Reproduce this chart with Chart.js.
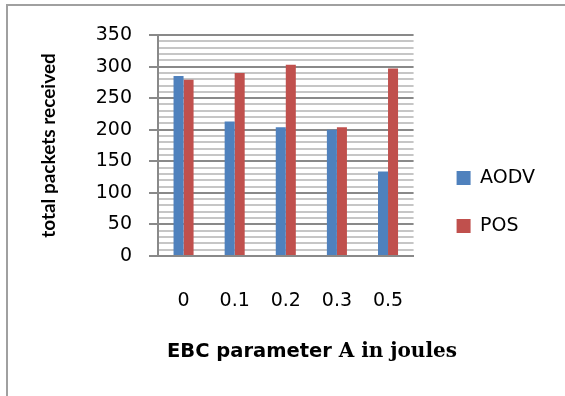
<!DOCTYPE html>
<html><head><meta charset="utf-8">
<script src="https://cdn.jsdelivr.net/npm/chart.js@4"></script>
<style>html,body{margin:0;padding:0;background:#fff;}#wrap{position:relative;width:565px;height:396px;}</style>
</head><body><div id="wrap"><canvas id="c" width="565" height="396"></canvas></div>
<script>
const categories = ['0', '0.1', '0.2', '0.3', '0.5'];
const aodvValues = [285, 213, 204, 200, 134];
const posValues = [279, 290, 303, 204, 297];
const seriesNames = ['AODV', 'POS'];
const yMin = 0, yMax = 350, yMajorStep = 50, yMinorStep = 10;
const yTitle = 'total packets received';
const xTitleSans = 'EBC parameter';
const xTitleSerif = 'A in joules';

const frame = {
  id: 'frame',
  beforeDraw(chart) {
    const ctx = chart.ctx;
    ctx.save();
    ctx.fillStyle = '#fff';
    ctx.fillRect(0, 0, chart.width, chart.height);
    ctx.fillStyle = '#a0a0a0';
    ctx.fillRect(6, 4, chart.width - 6, 2);
    ctx.fillRect(6, 4, 2, chart.height - 4);
    ctx.restore();
  }
};
const xTitle = {
  id: 'xTitle',
  afterDraw(chart) {
    const ctx = chart.ctx, a = chart.chartArea;
    ctx.save();
    const f1 = 'bold 19.5px "DejaVu Sans"', f2 = 'bold 20px "DejaVu Serif"';
    ctx.font = f1; const w1 = ctx.measureText(xTitleSans + ' ').width;
    ctx.font = f2; const w2 = ctx.measureText(xTitleSerif).width;
    const cx = a.left + 154, base = a.bottom + 101;
    let x = cx - (w1 + w2) / 2;
    ctx.fillStyle = '#000'; ctx.textBaseline = 'alphabetic'; ctx.textAlign = 'left';
    ctx.font = f1; ctx.fillText(xTitleSans + ' ', x, base);
    ctx.font = f2; ctx.fillText(xTitleSerif, x + w1, base);
    ctx.restore();
  }
};

const isMajor = c => c.tick && c.tick.value % yMajorStep === 0;

new Chart(document.getElementById('c'), {
  type: 'bar',
  data: {
    labels: categories,
    datasets: [
      { label: seriesNames[0], data: aodvValues, backgroundColor: '#4F81BD', borderWidth: 0 },
      { label: seriesNames[1], data: posValues, backgroundColor: '#C0504D', borderWidth: 0 }
    ]
  },
  options: {
    responsive: false,
    animation: false,
    devicePixelRatio: 1,
    layout: { padding: { left: 33, top: 35, bottom: 27, right: 20 } },
    datasets: { bar: { categoryPercentage: 0.392, barPercentage: 1 } },
    plugins: {
      tooltip: { enabled: false },
      legend: {
        position: 'right',
        maxWidth: 140,
        labels: {
          boxWidth: 14, boxHeight: 14, padding: 29, color: '#000',
          font: { family: '"DejaVu Sans"', size: 19 }
        }
      }
    },
    scales: {
      x: {
        grid: { display: false, drawTicks: false },
        border: { display: true, color: '#898989', width: 2 },
        ticks: { color: '#000', padding: 34, font: { family: '"DejaVu Sans"', size: 19 } },
        afterFit(s) { s.height = 113; }
      },
      y: {
        min: yMin, max: yMax,
        border: { display: true, color: '#898989', width: 2 },
        grid: {
          color: c => isMajor(c) ? '#898989' : '#c6c6c6',
          lineWidth: 2,
          tickColor: c => isMajor(c) ? '#898989' : 'rgba(0,0,0,0)',
          tickLength: 9
        },
        ticks: {
          stepSize: yMinorStep, autoSkip: false, padding: 17, color: '#000',
          font: { family: '"DejaVu Sans"', size: 19 },
          callback: v => (v % yMajorStep === 0 ? String(v) : '')
        },
        title: { display: true, text: yTitle, color: '#000', font: { family: 'Lato', size: 19, weight: 'bold' } },
        afterFit(s) { s.width = 125; }
      },
      yr: {
        position: 'right', display: true,
        grid: { display: false, drawTicks: false },
        border: { display: false },
        ticks: { display: false },
        afterFit(s) { s.width = 14; }
      }
    }
  },
  plugins: [frame, xTitle]
});
</script></body></html>
